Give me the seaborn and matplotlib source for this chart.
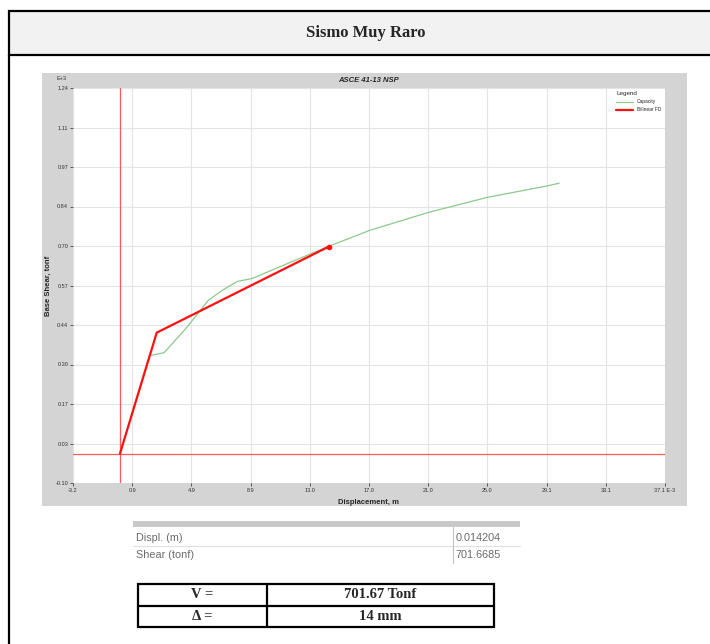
#---------------------------------------------- pushover curve (ASCE 41-13 NSP)
import numpy as np
import pandas as pd
import matplotlib
matplotlib.use("Agg")
import matplotlib.pyplot as plt
import seaborn as sns
from matplotlib.patches import Rectangle
from matplotlib.lines import Line2D

#---------- data (displacement in E-3 m, base shear in E+3 tonf)
cap_disp = [0.0, 2.0, 3.0, 4.5, 6.0, 7.0, 8.0, 9.0, 11.0, 14.2, 17.0, 21.0, 25.0, 29.0, 29.9]
cap_shear = [0.0, 0.332, 0.342, 0.425, 0.519, 0.555, 0.584, 0.594, 0.636, 0.703, 0.757, 0.818, 0.869, 0.907, 0.917]
bil_disp = [0.0, 2.5, 14.204]
bil_shear = [0.0, 0.41, 0.7017]
x_ticklabels = ["-3.2", "0.9", "4.9", "8.9", "13.0", "17.0", "21.0", "25.0", "29.1", "33.1", "37.1 E-3"]
y_ticklabels = ["-0.10", "0.03", "0.17", "0.30", "0.44", "0.57", "0.70", "0.84", "0.97", "1.11", "1.24"]
info_labels = ["Displ. (m)", "Shear (tonf)"]
info_values = ["0.014204", "701.6685"]
result_labels = ["V =", "\u0394 ="]
result_values = ["701.67 Tonf", "14 mm"]

sns.set_style("white")
plt.rcParams["font.family"] = ["Liberation Sans", "DejaVu Sans"]

W, H = 710, 644
fig = plt.figure(figsize=(7.1, 6.44), dpi=100)

def fx(px):
    return px / W

def fy(py):
    return 1 - py / H

def frect(x0, y0, x1, y1, **kw):
    # rectangle in pixel coords (top-left origin), drawn behind the axes
    r = Rectangle((fx(x0), fy(y1)), fx(x1 - x0), (y1 - y0) / H, transform=fig.transFigure, zorder=-5, **kw)
    fig.patches.append(r)

def fline(xs, ys, **kw):
    fig.lines.append(Line2D([fx(v) for v in xs], [fy(v) for v in ys], transform=fig.transFigure, zorder=-4, **kw))

serif = ["Liberation Serif", "DejaVu Serif"]

#---------- page frame / header row
frect(9, 11, 720, 55, facecolor="#f2f2f2", edgecolor="black", lw=1.6)
fline([9, 9], [55, 650], color="black", lw=1.6)
fig.text(fx(366), fy(33), "Sismo Muy Raro", ha="center", va="center", fontsize=12,
         fontweight="bold", family=serif)

#---------- gray chart panel
frect(42, 73, 687, 506, facecolor="#d4d4d4", edgecolor="none")

ax = fig.add_axes([fx(73), fy(483), fx(592), 395 / H])
ax.set_facecolor("white")
xt = np.linspace(-3.2, 37.1, 11)
yt = np.linspace(-0.10, 1.24, 11)
ax.set_xlim(xt[0], xt[-1])
ax.set_ylim(yt[0], yt[-1])
ax.set_xticks(xt)
ax.set_xticklabels(x_ticklabels)
ax.set_yticks(yt)
ax.set_yticklabels(y_ticklabels)
ax.grid(True, color="#e4e4e4", lw=0.8)
for s in ax.spines.values():
    s.set_visible(False)
ax.tick_params(length=2, width=0.6, color="#444", labelsize=4, labelcolor="#333", pad=1.5,
               bottom=True, left=True)

# reference axes
ax.axvline(0, color="#ff5a5a", lw=0.9, zorder=2)
ax.axhline(0, color="#ff5a5a", lw=0.9, zorder=2)

cap_df = pd.DataFrame({"disp": cap_disp, "shear": cap_shear})
bil_df = pd.DataFrame({"disp": bil_disp, "shear": bil_shear})
sns.lineplot(data=cap_df, x="disp", y="shear", sort=False, color="#8cc98c", lw=0.9, ax=ax,
             label="Capacity", zorder=3)
sns.lineplot(data=bil_df, x="disp", y="shear", sort=False, color="#ff1010", lw=1.6, ax=ax,
             label="Bilinear FD", zorder=4)
ax.scatter(bil_disp[-1:], bil_shear[-1:], s=9, color="#ff1010", zorder=5)

ax.set_xlabel("Displacement, m", fontsize=5.5, fontweight="bold")
ax.set_ylabel("Base Shear, tonf", fontsize=5.5, fontweight="bold")
ax.xaxis.set_label_coords(0.5, -0.04)
ax.yaxis.set_label_coords(-0.035, 0.5)
ax.set_title("ASCE 41-13 NSP", fontsize=5.5, fontweight="bold", style="italic", pad=4)
fig.text(fx(62), fy(79), "E+3", fontsize=4, color="#333", ha="center", va="center")

leg = ax.legend(title="Legend", loc="upper right", frameon=False, fontsize=3.5,
                title_fontsize=4.5, handlelength=3.5, borderaxespad=0.3, labelspacing=0.6)
leg._legend_box.align = "left"

#---------- small data table (screenshot)
frect(133, 521, 520, 527, facecolor="#c8c8c8", edgecolor="none")
fline([133, 520], [546, 546], color="#e0e0e0", lw=0.8)
fline([453, 453], [527, 563], color="#c0c0c0", lw=0.8)
for i in range(len(info_labels)):
    yy = 538 + i * 17
    fig.text(fx(136), fy(yy), info_labels[i], fontsize=7.8, color="#6b6b6b", va="center")
    fig.text(fx(456), fy(yy), info_values[i], fontsize=7.8, color="#6b6b6b", va="center")

#---------- result table
frect(138, 584, 494, 627, facecolor="none", edgecolor="black", lw=1.6)
fline([267, 267], [584, 627], color="black", lw=1.6)
fline([138, 494], [605.5, 605.5], color="black", lw=1.6)
for i in range(len(result_labels)):
    yy = 595 + i * 21.5
    fig.text(fx(202), fy(yy), result_labels[i], ha="center", va="center", fontsize=10.5,
             fontweight="bold", family=serif)
    fig.text(fx(380), fy(yy), result_values[i], ha="center", va="center", fontsize=10.5,
             fontweight="bold", family=serif)

fig.savefig("out.png", dpi=100)
